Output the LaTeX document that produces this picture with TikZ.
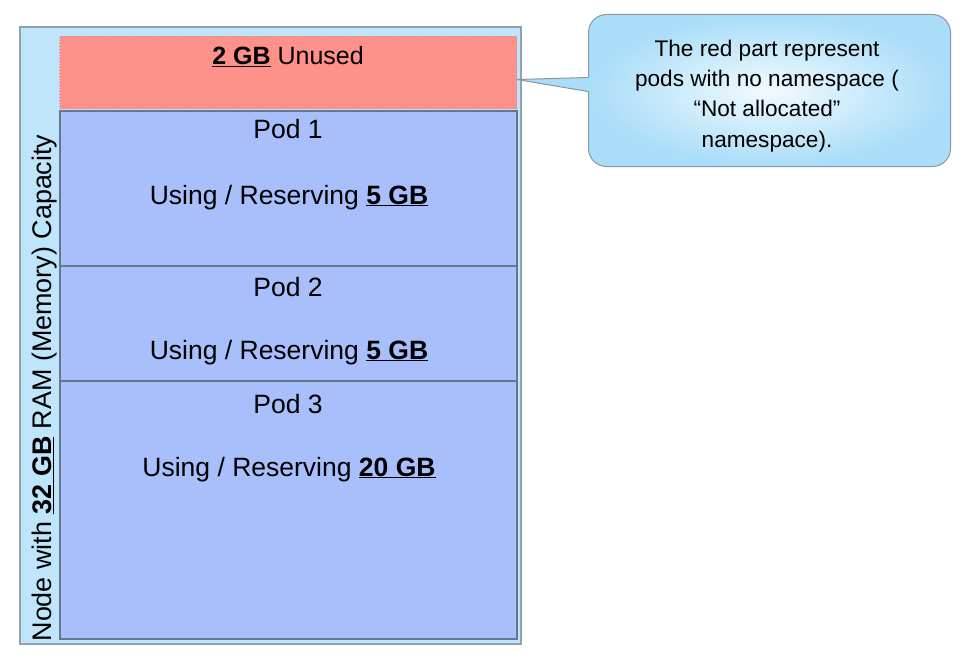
\documentclass[tikz,border=0pt]{standalone}
\usepackage{fontspec}
\setmainfont{Liberation Sans}
\usetikzlibrary{calc}
\definecolor{outerfill}{HTML}{BEE5FA}
\definecolor{redfill}{HTML}{FE9189}
\definecolor{podfill}{HTML}{A9BFFC}
\definecolor{bordercol}{HTML}{65778A}
\definecolor{calloutedge}{HTML}{A9DDF8}
\definecolor{calloutinner}{HTML}{F2FAFE}
\definecolor{calloutline}{HTML}{8C969E}
\tikzset{
  box/.style={draw=bordercol, line width=1.6pt, inner sep=0pt, anchor=north west},
  podbox/.style={box, fill=podfill},
  lbl/.style={font=\fontsize{26.5}{30}\selectfont, anchor=base, inner sep=0pt},
  clbl/.style={font=\fontsize{22.6}{30}\selectfont, anchor=base, inner sep=0pt},
}
\newcommand{\ub}[1]{\underline{\textbf{#1}}}
\begin{document}
\begin{tikzpicture}[x=1pt,y=-1pt]
\useasboundingbox (0,0) rectangle (975,661);
% outer node
\node[box, draw=bordercol!70, fill=outerfill, minimum width=501pt, minimum height=617pt] (outer) at (19,26) {};
% red unused
\node[box, fill=redfill, draw=redfill!70!gray, line width=1pt, dotted, minimum width=457pt, minimum height=72pt] (unused) at (59,36) {};
% pods
\node[podbox, minimum width=457pt, minimum height=155pt] (pod1) at (59,110) {};
\node[podbox, minimum width=457pt, minimum height=115pt] (pod2) at (59,265) {};
\node[podbox, minimum width=457pt, minimum height=258pt] (pod3) at (59,380) {};
% texts
\node[lbl, font=\fontsize{25}{30}\selectfont] (tunused) at (288,65) {\ub{2 GB} Unused};
\node[lbl] (tp1) at (288,139) {Pod 1};
\node[lbl] (tu1) at (289,204) {Using / Reserving \ub{5 GB}};
\node[lbl] (tp2) at (288,296) {Pod 2};
\node[lbl] (tu2) at (289,359) {Using / Reserving \ub{5 GB}};
\node[lbl] (tp3) at (288,413) {Pod 3};
\node[lbl] (tu3) at (289,476) {Using / Reserving \ub{20 GB}};
\node[lbl, rotate=90, font=\fontsize{26.9}{30}\selectfont] (tnode) at (51,388) {Node with \ub{32 GB} RAM (Memory) Capacity};
% callout
\node[draw=calloutline, line width=1pt, rounded corners=18pt, inner sep=0pt,
      inner color=calloutinner, outer color=calloutedge,
      minimum width=362pt, minimum height=152pt, anchor=north west] (callout) at (588,14) {};
\coordinate (tip) at ([yshift=-7pt]unused.east);
\coordinate (pa) at ([yshift=13pt]callout.west);
\coordinate (pb) at ([yshift=-1pt]callout.west);
\fill[calloutedge] ($(pa)+(3,0)$) -- (pa) -- (tip) -- (pb) -- ($(pb)+(3,0)$) -- cycle;
\draw[calloutline, line width=1pt] (pa) -- (tip) -- (pb);
\node[clbl] (c1) at (767,57) {The red part represent};
\node[clbl] (c2) at (767,87) {pods with no namespace (};
\node[clbl] (c3) at (767,117) {“Not allocated”};
\node[clbl] (c4) at (767,147) {namespace).};
\end{tikzpicture}
\end{document}
